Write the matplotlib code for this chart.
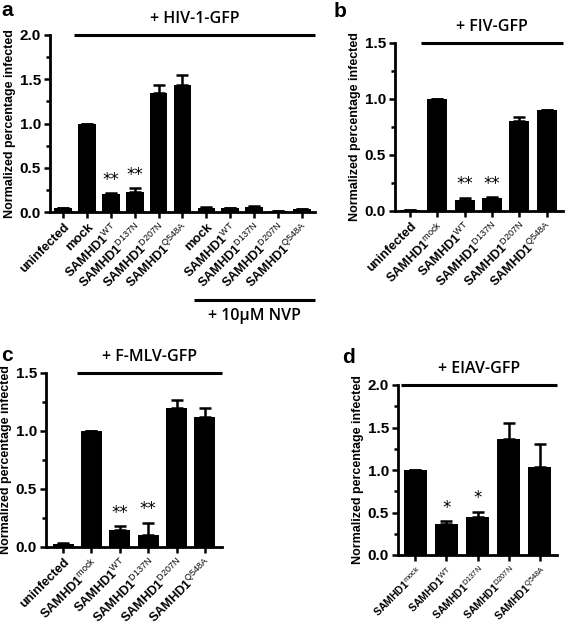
import matplotlib
matplotlib.use("Agg")
import matplotlib.pyplot as plt
from matplotlib.ticker import MultipleLocator
import numpy as np

plt.rcParams['font.family'] = ['Liberation Sans', 'DejaVu Sans']
plt.rcParams['mathtext.fontset'] = 'custom'
plt.rcParams['mathtext.rm'] = 'Liberation Sans'
plt.rcParams['mathtext.bf'] = 'Liberation Sans:bold'
plt.rcParams['mathtext.default'] = 'rm'

# ---- data ----
a_labels = ['uninfected', 'mock', r'SAMHD1$^{\mathrm{WT}}$', r'SAMHD1$^{\mathrm{D137N}}$',
            r'SAMHD1$^{\mathrm{D207N}}$', r'SAMHD1$^{\mathrm{Q548A}}$',
            'mock', r'SAMHD1$^{\mathrm{WT}}$', r'SAMHD1$^{\mathrm{D137N}}$',
            r'SAMHD1$^{\mathrm{D207N}}$', r'SAMHD1$^{\mathrm{Q548A}}$']
a_values = [0.04, 1.00, 0.20, 0.23, 1.34, 1.44, 0.05, 0.04, 0.06, 0.01, 0.03]
a_errors = [0.01, 0.0, 0.01, 0.04, 0.09, 0.11, 0.01, 0.01, 0.01, 0.005, 0.005]
a_stars = ['', '', '**', '**', '', '', '', '', '', '', '']

b_labels = ['uninfected', r'SAMHD1$^{\mathrm{mock}}$', r'SAMHD1$^{\mathrm{WT}}$',
            r'SAMHD1$^{\mathrm{D137N}}$', r'SAMHD1$^{\mathrm{D207N}}$', r'SAMHD1$^{\mathrm{Q548A}}$']
b_values = [0.005, 1.00, 0.10, 0.12, 0.80, 0.90]
b_errors = [0.0, 0.0, 0.02, 0.005, 0.04, 0.005]
b_stars = ['', '', '**', '**', '', '']

c_labels = ['uninfected', r'SAMHD1$^{\mathrm{mock}}$', r'SAMHD1$^{\mathrm{WT}}$',
            r'SAMHD1$^{\mathrm{D137N}}$', r'SAMHD1$^{\mathrm{D207N}}$', r'SAMHD1$^{\mathrm{Q548A}}$']
c_values = [0.03, 1.00, 0.15, 0.10, 1.20, 1.12]
c_errors = [0.005, 0.0, 0.03, 0.11, 0.07, 0.08]
c_stars = ['', '', '**', '**', '', '']

d_labels = [r'SAMHD1$^{\mathrm{mock}}$', r'SAMHD1$^{\mathrm{WT}}$', r'SAMHD1$^{\mathrm{D137N}}$',
            r'SAMHD1$^{\mathrm{D207N}}$', r'SAMHD1$^{\mathrm{Q548A}}$']
d_values = [1.00, 0.37, 0.45, 1.36, 1.03]
d_errors = [0.0, 0.03, 0.06, 0.19, 0.28]
d_stars = ['', '*', '*', '', '']

fig = plt.figure(figsize=(5.72, 6.27), dpi=100)
W, H = 572, 627


def add_ax(l, r, t, b):
    return fig.add_axes([l / W, 1 - b / H, (r - l) / W, (b - t) / H])


def letter(px, py, s):
    fig.text(px / W, 1 - py / H, s, fontsize=15, fontweight='bold', ha='left', va='top')


def draw(ax, labels, values, errors, stars, ymax, title, line_start, xl, fs=9.2,
         starfs=12, width=0.74):
    x = np.arange(len(values))
    ax.bar(x, values, width=width, color='black', zorder=2)
    ax.errorbar(x, values, yerr=[np.zeros(len(errors)), errors], fmt='none',
                ecolor='black', elinewidth=1.8, capsize=4, capthick=1.8, zorder=1)
    for xi, v, e, s in zip(x, values, errors, stars):
        if s:
            ax.text(xi, v + e + ymax * 0.025, s, ha='center', va='bottom',
                    fontsize=starfs, fontfamily='DejaVu Sans')
    ax.set_xlim(*xl)
    ax.set_ylim(0, ymax)
    ax.yaxis.set_major_locator(MultipleLocator(0.5))
    ax.yaxis.set_minor_locator(MultipleLocator(0.25))
    ax.set_xticks(x)
    ax.set_xticklabels(labels, rotation=45, ha='right', rotation_mode='anchor',
                       fontsize=fs, fontweight='bold')
    for sp in ['top', 'right']:
        ax.spines[sp].set_visible(False)
    for sp in ['left', 'bottom']:
        ax.spines[sp].set_linewidth(2)
    ax.tick_params(axis='both', which='major', width=1.8, length=4.5, direction='out', pad=2)
    ax.tick_params(axis='y', which='minor', width=1.8, length=3)
    ax.tick_params(axis='y', labelsize=11)
    for t in ax.get_yticklabels():
        t.set_fontweight('bold')
    ax.set_ylabel('Normalized percentage infected', fontsize=9, fontweight='bold', labelpad=3)
    ax.plot([line_start, xl[1]], [ymax, ymax], color='black', lw=2.2, clip_on=False,
            solid_capstyle='butt')
    ax.text((line_start + xl[1]) / 2, ymax * 1.045, title, ha='center', va='bottom',
            fontsize=11.5, fontfamily='Open Sans', fontweight='semibold')


ax_a = add_ax(50, 315, 35, 212)
draw(ax_a, a_labels, a_values, a_errors, a_stars, 2.0, '+ HIV-1-GFP', 0.45,
     (-0.55, 10.55))
ax_a.plot([5.5, 10.55], [-0.99, -0.99], color='black', lw=2.2, clip_on=False,
          solid_capstyle='butt')
ax_a.text(8.0, -1.08, '+ 10µM NVP', ha='center', va='top', fontsize=11.5,
          fontfamily='Open Sans', fontweight='semibold')

ax_b = add_ax(395, 563, 43, 211)
draw(ax_b, b_labels, b_values, b_errors, b_stars, 1.5, '+ FIV-GFP', 0.4,
     (-0.55, 5.6))

ax_c = add_ax(46, 222, 373, 547)
draw(ax_c, c_labels, c_values, c_errors, c_stars, 1.5, '+ F-MLV-GFP', 0.5,
     (-0.6, 5.6))

ax_d = add_ax(398, 557, 385, 555)
draw(ax_d, d_labels, d_values, d_errors, d_stars, 2.0, '+ EIAV-GFP', -0.45,
     (-0.55, 4.55), fs=7.6)

letter(1, 1, 'a')
letter(334, 2, 'b')
letter(1, 346, 'c')
letter(342, 348, 'd')

fig.savefig('out.png', dpi=100)
